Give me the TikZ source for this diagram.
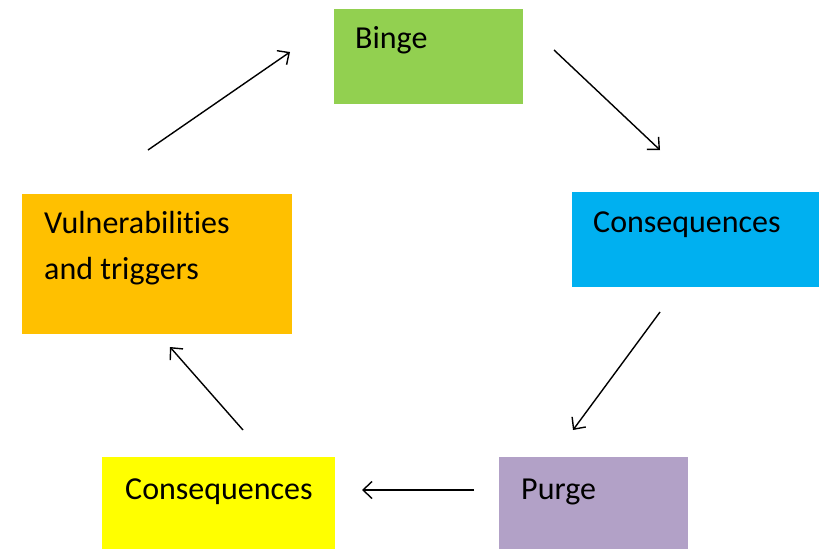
\documentclass[tikz,border=0pt]{standalone}
\usepackage{fontspec}
\setmainfont[RawFeature={-liga}]{Carlito}
\usetikzlibrary{arrows.meta}
\definecolor{cgreen}{HTML}{92D050}
\definecolor{cblue}{HTML}{00B0F0}
\definecolor{corange}{HTML}{FFC000}
\definecolor{cyellow}{HTML}{FFFF00}
\definecolor{cpurple}{HTML}{B2A1C7}
\tikzset{
  box/.style={rectangle, draw=none, inner sep=0pt, anchor=north west},
  lbl/.style={anchor=base west, inner sep=0pt, font=\fontsize{32}{38}\selectfont},
  conn/.style={line width=1.4pt, -{Straight Barb[length=9pt,width=17pt,line width=1.4pt]}}
}
\begin{document}
\begin{tikzpicture}[x=1pt,y=-1pt]
\useasboundingbox (0,0) rectangle (819,549);
% boxes
\node[box, fill=cgreen, minimum width=189pt, minimum height=95pt] (binge) at (334,9) {};
\node[box, fill=cblue, minimum width=247pt, minimum height=95pt] (cons1) at (572,192) {};
\node[box, fill=cpurple, minimum width=189pt, minimum height=92pt] (purge) at (499,457) {};
\node[box, fill=cyellow, minimum width=233pt, minimum height=92pt] (cons2) at (102,457) {};
\node[box, fill=corange, minimum width=270pt, minimum height=140pt] (vuln) at (22,194) {};
% labels
\node[lbl] (tbinge) at (355,48) {Binge};
\node[lbl] (tcons1) at (593,232) {Consequences};
\node[lbl] (tpurge) at (521,499) {Purge};
\node[lbl] (tcons2) at (125,499) {Consequences};
\node[lbl] (tvuln1) at (44,233) {Vulnerabilities};
\node[lbl] (tvuln2) at (44,279) {and triggers};
% connector end points
\coordinate (a1s) at (148,150); \coordinate (a1e) at (290,52);
\coordinate (a2s) at (554,50);  \coordinate (a2e) at (660,150);
\coordinate (a3s) at (660,312); \coordinate (a3e) at (573,430);
\coordinate (a4s) at (474,490); \coordinate (a4e) at (362,490);
\coordinate (a5s) at (243,430); \coordinate (a5e) at (170,347);
\draw[conn] (a1s) -- (a1e);
\draw[conn] (a2s) -- (a2e);
\draw[conn] (a3s) -- (a3e);
\draw[conn] (a4s) -- (a4e);
\draw[conn] (a5s) -- (a5e);
\end{tikzpicture}
\end{document}
